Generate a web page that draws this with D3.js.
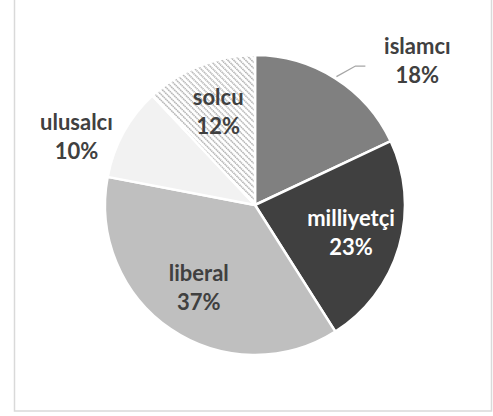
<!DOCTYPE html>
<html lang="en">
<head>
  <meta charset="UTF-8">
  <title>Pie</title>
  <script src="https://d3js.org/d3.v7.min.js"></script>
  <style>
    body { margin: 0; background: #fff; }
    .lbl { font-family: Lato, "Open Sans", sans-serif; font-weight: bold; font-size: 22px; }
  </style>
</head>
<body>
  <svg width="493" height="416"></svg>
  <script>
  const labels = ["islamcı", "milliyetçi", "liberal", "ulusalcı", "solcu"];
  const values = [18, 23, 37, 10, 12];
  const colors = ["#808080", "#404040", "#bfbfbf", "#f2f2f2", "url(#hatch)"];
  const textColors = ["#404040", "#ffffff", "#404040", "#404040", "#404040"];
  const outside = [true, false, false, true, false];

  const svg = d3.select("svg");
  const cx = 255, cy = 205, r = 150;

  // chart frame
  svg.append("rect")
    .attr("x", 14.5).attr("y", -5)
    .attr("width", 477).attr("height", 416)
    .attr("fill", "none")
    .attr("stroke", "#d9d9d9")
    .attr("stroke-width", 1.5);

  const defs = svg.append("defs");
  const pat = defs.append("pattern")
    .attr("id", "hatch")
    .attr("patternUnits", "userSpaceOnUse")
    .attr("width", 4.2).attr("height", 4.2)
    .attr("patternTransform", "rotate(45)");
  pat.append("rect").attr("width", 4.2).attr("height", 4.2).attr("fill", "#fff");
  pat.append("line")
    .attr("x1", 0).attr("y1", 0.8).attr("x2", 4.2).attr("y2", 0.8)
    .attr("stroke", "#b3b3b3").attr("stroke-width", 1.6)
    .attr("stroke-dasharray", "1.4,0.7");

  const data = labels.map((l, i) => ({ label: l, value: values[i], i: i }));

  const pie = d3.pie().value(d => d.value).sort(null);
  const arc = d3.arc().innerRadius(0).outerRadius(r);
  const labelArc = d3.arc().innerRadius(100).outerRadius(100);

  const g = svg.append("g").attr("transform", `translate(${cx},${cy})`);
  const arcs = pie(data);

  g.selectAll("path.slice")
    .data(arcs)
    .enter()
    .append("path")
    .attr("class", "slice")
    .attr("d", arc)
    .attr("fill", d => colors[d.data.i])
    .attr("stroke", "#fff")
    .attr("stroke-width", 2.5)
    .attr("stroke-linejoin", "round");

  const fmt = d3.format(".0%");

  // label positions: inside at centroid, outside placed beyond the rim
  function labelPos(d) {
    if (!outside[d.data.i]) return labelArc.centroid(d);
    const mid = (d.startAngle + d.endAngle) / 2;
    if (d.data.i === 0) {
      const a = mid + 0.28;
      return [Math.sin(a) * (r + 67), -Math.cos(a) * (r + 67)];
    }
    const a = mid - 0.14;
    return [Math.sin(a) * (r + 41), -Math.cos(a) * (r + 41)];
  }

  // leader line for islamcı
  const d0 = arcs[0];
  const m0 = (d0.startAngle + d0.endAngle) / 2;
  const p0 = [Math.sin(m0) * (r + 2), -Math.cos(m0) * (r + 2)];
  const lp = labelPos(d0);
  g.append("polyline")
    .attr("points", [p0, [p0[0] + 19, lp[1] + 5], [lp[0] - 52, lp[1] + 5]].map(p => p.join(",")).join(" "))
    .attr("fill", "none")
    .attr("stroke", "#a6a6a6")
    .attr("stroke-width", 1.3);

  const txt = g.selectAll("text.lbl")
    .data(arcs)
    .enter()
    .append("text")
    .attr("class", "lbl")
    .attr("text-anchor", "middle")
    .attr("fill", d => textColors[d.data.i])
    .attr("transform", d => { const p = labelPos(d); return `translate(${p[0]},${p[1]})`; });

  txt.append("tspan").attr("x", 0).attr("y", -7).text(d => d.data.label);
  txt.append("tspan").attr("x", 0).attr("y", 22).text(d => fmt(d.data.value / 100));
  </script>
</body>
</html>
